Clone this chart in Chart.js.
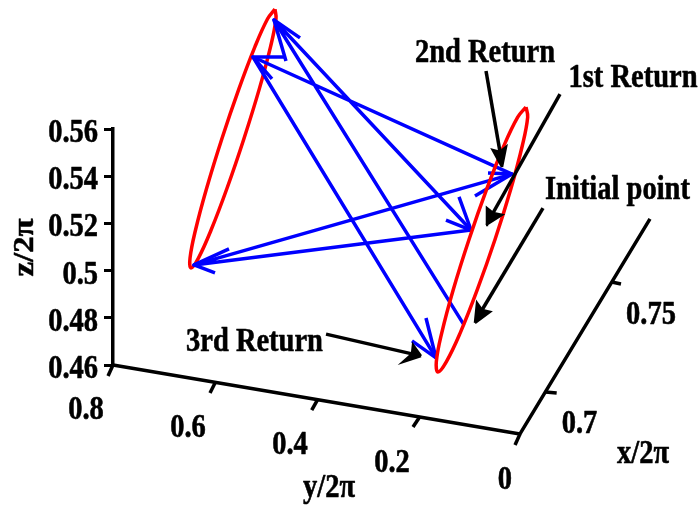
<!DOCTYPE html>
<html>
<head>
<meta charset="utf-8">
<style>html,body{margin:0;padding:0;background:#fff}#wrap{width:700px;height:510px}</style>
<script src="https://cdn.jsdelivr.net/npm/chart.js@4"></script>
</head>
<body>
<div id="wrap"><canvas id="c" width="700" height="510"></canvas></div>
<script>
// Axis ticks
const zTickValues = [0.46, 0.48, 0.5, 0.52, 0.54, 0.56];
const zTicks = ['0.46','0.48','0.5','0.52','0.54','0.56'];
// Projected values: [horizontal position in y/2pi units, height in z/2pi units]
const leftLoop = [[.4816,.6108],[.4796,.6067],[.4904,.5948],[.5124,.5770],[.5425,.5560],[.5757,.5350],[.6072,.5172],[.6321,.5053],[.6467,.5011],[.6486,.5053],[.6378,.5172],[.6158,.5350],[.5858,.5560],[.5525,.5770],[.5211,.5948],[.4961,.6067],[.4816,.6108]];
const rightLoop = [[-.0118,.5693],[-.0151,.5650],[-.0045,.5529],[.0179,.5347],[.0491,.5132],[.0843,.4917],[.1177,.4735],[.1449,.4613],[.1612,.4570],[.1645,.4613],[.1539,.4735],[.1315,.4917],[.1002,.5132],[.0651,.5347],[.0316,.5529],[.0045,.5650],[-.0118,.5693]];
const returnPath = [[.1101,.4770],[.4835,.6062],[.0963,.5172],[.6408,.5024],[.0157,.5409],[.5248,.5905],[.1651,.4630]];
const pathBarbs = [
  [[.4600,.5888],[.4835,.6062],[.4324,.5986]],
  [[.1199,.5312],[.0963,.5172],[.1455,.5214]],
  [[.5720,.5092],[.6408,.5024],[.5995,.4990]],
  [[.0885,.5316],[.0157,.5409],[.0629,.5414]],
  [[.4619,.5905],[.5248,.5905],[.4875,.5812]],
  [[.1848,.4799],[.1651,.4630],[.2123,.4702]]
];
const axisLines = [
  [[.8,.46],[0,.4308],[-.2555,.5219]],
  [[.5990,.4526],[.6093,.4481]],
  [[.3970,.4456],[.4094,.4409]],
  [[.1966,.4382],[.2103,.4337]],
  [[.8,.46],[.8098,.4553]],
  [[0,.4308],[.0098,.4261]],
  [[-.0499,.4486],[-.0721,.4481]],
  [[-.1802,.4952],[-.1985,.4943]]
];
const calloutLines = [
  [[.0668,.5846],[.0393,.5503]],
  [[-.0786,.5748],[.0531,.5244]],
  [[-.0452,.5265],[.0747,.4833]],
  [[.3813,.4731],[.2123,.4647]]
];
const calloutHeads = [
  [[.0354,.5439],[.0537,.5511],[.0393,.5503],[.0275,.5524],[.0354,.5439]],
  [[.0668,.5193],[.0649,.5265],[.0531,.5244],[.0354,.5236],[.0668,.5193]],
  [[.0885,.4778],[.0845,.4863],[.0747,.4833],[.0590,.4825],[.0885,.4778]],
  [[.1946,.4638],[.2103,.4685],[.2123,.4647],[.2300,.4613],[.1946,.4638]]
];
const textLabels = [
  ['2nd Return',.0688,.5884,0],['1st Return',-.2221,.5778,0],['Initial point',-.1916,.5303,0],['3rd Return',.5219,.4659,0],
  ['0.8',.8531,.4371,0],['0.6',.6526,.4295,0],['0.4',.4521,.4223,0],['0.2',.2516,.4147,0],['0',.0295,.4075,0],
  ['0.7',-.1170,.4312,0],['0.75',-.2575,.4774,0],
  ['x/2\u03C0',-.2418,.4185,0],['y/2\u03C0',.3754,.4041,0],['z/2\u03C0',.9572,.5098,1]
];

const pts = a => a.map(([x, y]) => ({x, y}));
const stroke = (a, color, width, order, extra) => Object.assign({
  data: pts(a), showLine: true, borderColor: color, borderWidth: width, pointRadius: 0,
  clip: false, order, tension: 0, capBezierPoints: false, borderCapStyle: 'butt', borderJoinStyle: 'round'
}, extra || {});

const datasets = [];
axisLines.forEach(a => datasets.push(stroke(a, '#000', 3.5, 1)));
calloutLines.forEach(a => datasets.push(stroke(a, '#000', 3.5, 0)));
calloutHeads.forEach(a => datasets.push(stroke(a, '#000', 2.5, 0, {fill: 'shape', backgroundColor: '#000', borderJoinStyle: 'miter'})));
datasets.push(stroke(rightLoop, '#ff0000', 3.5, 2, {tension: 0.4}));
datasets.push(stroke(returnPath, '#0000ff', 3.5, 3));
pathBarbs.forEach(a => datasets.push(stroke(a, '#0000ff', 3.5, 3)));
datasets.push(stroke(leftLoop, '#ff0000', 3.5, 4, {tension: 0.4}));

const textPlugin = {
  id: 'textPlugin',
  afterDraw(chart) {
    const {ctx, scales: {x, y}} = chart;
    ctx.save();
    ctx.fillStyle = '#000';
    ctx.strokeStyle = '#000';
    ctx.lineWidth = 0.5;
    ctx.lineJoin = 'round';
    ctx.font = 'bold 28.5px "Liberation Serif"';
    ctx.textBaseline = 'alphabetic';
    const put = (t, px, py, rot) => {
      ctx.save();
      ctx.translate(px, py);
      if (rot) { ctx.rotate(-Math.PI / 2); ctx.scale(1.15, 1); } else { ctx.scale(1, 1.15); }
      ctx.fillText(t, 0, 0);
      ctx.strokeText(t, 0, 0);
      ctx.restore();
    };
    ctx.textAlign = 'center';
    textLabels.forEach(([t, h, z, rot]) => put(t, x.getPixelForValue(h), y.getPixelForValue(z), rot));
    ctx.textAlign = 'right';
    zTickValues.forEach((v, i) => put(zTicks[i], y.left + y.width - 15, y.getPixelForValue(v) + 13, 0));
    ctx.restore();
  }
};

new Chart(document.getElementById('c'), {
  type: 'scatter',
  data: {datasets},
  plugins: [textPlugin],
  options: {
    responsive: false,
    animation: false,
    layout: {padding: {left: 0, top: 129, right: 180, bottom: 145}},
    plugins: {legend: {display: false}, tooltip: {enabled: false}, title: {display: false}},
    scales: {
      x: {type: 'linear', reverse: true, min: 0, max: 0.8, display: false},
      y: {
        type: 'linear', min: 0.46, max: 0.56,
        afterFit: s => { s.width = 113; },
        border: {color: '#000', width: 3.5},
        grid: {drawOnChartArea: false, color: '#000', tickLength: 9, tickWidth: 3},
        ticks: {stepSize: 0.02, autoSkip: false, display: false}
      }
    }
  }
});
</script>
</body>
</html>
